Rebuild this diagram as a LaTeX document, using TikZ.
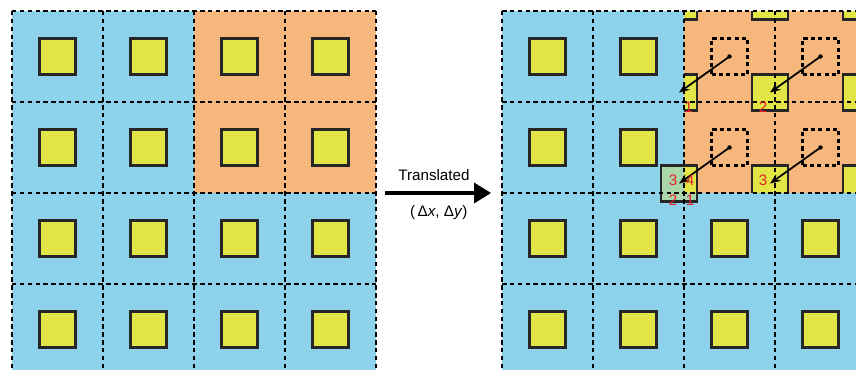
\documentclass[tikz,border=0pt]{standalone}
\usepackage{fontspec}
\setmainfont{Liberation Sans}
\usetikzlibrary{arrows.meta,
                calc, %for label offsets
                positioning}
\definecolor{cellblue}{HTML}{8ED1EA}
\definecolor{cellorange}{HTML}{F5B77B}
\definecolor{sqyellow}{HTML}{E1E546}
\definecolor{sqgreen}{HTML}{A9D7AB}
\definecolor{numred}{HTML}{E8202A}

\begin{document}
\begin{tikzpicture}[x=2cm,y=2cm,
                    Sq/.style={draw=black!85, line width=1.4pt, fill=sqyellow, minimum size=0.792cm, inner sep=0pt},
                    Ghost/.style={draw=black, dash pattern=on 2.6pt off 2pt, line width=1.4pt, minimum size=0.792cm, inner sep=0pt},
                    Grid/.style={black, dash pattern=on 2.8pt off 2.1pt, line width=1.4pt},
                    Move/.style={line width=1.1pt, -{Stealth[length=6.5pt,width=5pt]}},
                    Num/.style={text=numred, font=\fontsize{9.5}{10}\selectfont, inner sep=0pt}
                    ]
    \clip (-0.132,0.121) rectangle (9.275,-3.945);

    % LEFT GRID %
    \fill[cellblue] (0,0) rectangle (4,-4);
    \fill[cellorange] (2,0) rectangle (4,-2);
    \foreach \i in {0,...,3}{
    \foreach \j in {0,...,3}{
    \node[Sq] (L\i\j) at (\i+0.5,-\j-0.5) {};
    }}
    \foreach \k in {0,...,4}{
    \draw[Grid] (\k,0) -- (\k,-4);
    \draw[Grid] (0,-\k) -- (4,-\k);
    }

    % MIDDLE ARROW %
    \coordinate (arrS) at (4.099,-2);
    \coordinate (arrE) at (5.264,-2);
    \draw[line width=1.9pt, -{Triangle[length=10.5pt,width=12.5pt]}] (arrS) -- (arrE);
    \node[font=\fontsize{9.5}{11}\selectfont] (trl) at (4.637,-1.80) {Translated};
    \node[font=\fontsize{9.5}{11}\selectfont] (dlt) at (4.69,-2.21) {(\,Δ\textit{x}, Δ\textit{y})};

    % RIGHT GRID %
    \begin{scope}[shift={(5.385,0)}]
    \fill[cellblue] (0,0) rectangle (4,-4);
    \fill[cellorange] (2,0) rectangle (4,-2);
    \foreach \i in {0,...,3}{
    \foreach \j in {2,3}{
    \node[Sq] (R\i\j) at (\i+0.5,-\j-0.5) {};
    }}
    \foreach \i in {0,1}{
    \foreach \j in {0,1}{
    \node[Sq] (R\i\j) at (\i+0.5,-\j-0.5) {};
    }}

    % moved square over the border
    \node[Sq, fill=sqgreen] (grn) at (1.945,-1.896) {};
    \begin{scope}
    \clip (2,0) rectangle (4,-2);
    \foreach \i in {2,3,4}{
    \foreach \j in {0,1,2}{
    \node[Sq] (T\i\j) at (\i-0.055,-\j+0.104) {};
    }}
    \end{scope}

    % old places
    \foreach \i in {2,3}{
    \foreach \j in {0,1}{
    \node[Ghost] (O\i\j) at (\i+0.5,-\j-0.5) {};
    }}

    \foreach \k in {0,...,4}{
    \draw[Grid] (\k,0) -- (\k,-4);
    \draw[Grid] (0,-\k) -- (4,-\k);
    }
    \end{scope}

    % SHIFT ARROWS %
    \foreach \a/\b in {O20/T21, O30/T31, O21/T22, O31/T32}{
    \fill (\a.center) circle (1.4pt);
    \draw[Move] (\a.center) -- (\b.center);
    }

    % PIECE NUMBERS %
    \node[Num] (n1a) at ($(T21.center)+(0.104,-0.165)$) {1};
    \node[Num] (n2a) at ($(T31.center)+(-0.077,-0.165)$) {2};
    \node[Num] (n3a) at ($(T32.center)+(-0.077,0.033)$) {3};
    \node[Num] (g3) at ($(grn.center)+(-0.066,0.033)$) {3};
    \node[Num] (g4) at ($(grn.center)+(0.121,0.033)$) {4};
    \node[Num] (g2) at ($(grn.center)+(-0.066,-0.187)$) {2};
    \node[Num] (g1) at ($(grn.center)+(0.121,-0.187)$) {1};

\end{tikzpicture}
\end{document}
